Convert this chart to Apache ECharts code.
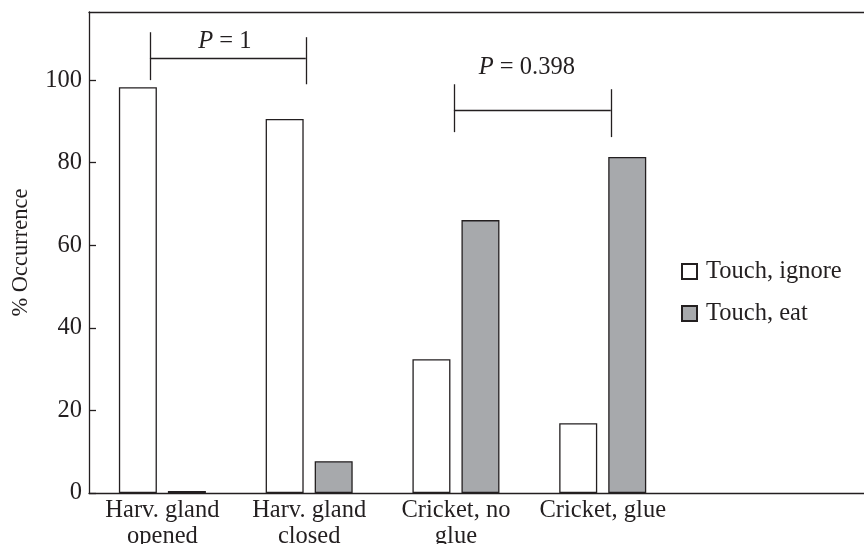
<!DOCTYPE html>
<html>
<head>
<meta charset="utf-8">
<script src="https://cdn.jsdelivr.net/npm/echarts@6/dist/echarts.min.js"></script>
<style>html,body{margin:0;padding:0;background:#fff;overflow:hidden}#c{width:864px;height:544px}</style>
</head>
<body>
<div id="c"></div>
<script>
const categories = ['Harv. gland\nopened', 'Harv. gland\nclosed', 'Cricket, no\nglue', 'Cricket, glue'];
const touchIgnore = [98.3, 90.6, 32.4, 16.9];
const touchEat = [0.5, 7.7, 66.1, 81.4];
const seriesNames = ['Touch, ignore', 'Touch, eat'];
const yTicks = [0, 20, 40, 60, 80, 100];
// significance brackets: [xLeft, xRight, yLeftTop, yLeftBottom, yRightTop, yRightBottom, yBar]
const bracket1 = [-0.085, 0.977, 111.6, 100.0, 110.4, 99.0, 105.3];
const bracket2 = [1.986, 3.055, 99.0, 87.4, 97.8, 86.2, 92.7];
// p-value labels: [x, y, text]
const pLabel1 = [0.426, 109.3, '1'];
const pLabel2 = [2.483, 103.0, '0.398'];

const FONT = 'Liberation Serif';
const INK = '#231f20';
const GRAY = '#a7a9ac';
const FS = 24.5;

const X_MIN = -0.5, X_MAX = 4.78;
const catIdx = categories.map((c, i) => i);

function bracketLines(b) {
  return [
    [{coord: [b[0], b[2]]}, {coord: [b[0], b[3]]}],
    [{coord: [b[1], b[4]]}, {coord: [b[1], b[5]]}],
    [{coord: [b[0], b[6]]}, {coord: [b[1], b[6]]}]
  ];
}

const chart = echarts.init(document.getElementById('c'), null, {renderer: 'canvas'});
chart.setOption({
  animation: false,
  backgroundColor: '#fff',
  textStyle: {fontFamily: FONT, color: INK},
  grid: {left: 89, top: 12, right: 0, bottom: 51, containLabel: false, outerBoundsMode: 'none'},
  legend: {
    orient: 'vertical',
    left: 681,
    top: 259,
    padding: 0,
    itemWidth: 15,
    itemHeight: 15,
    itemGap: 17,
    icon: 'rect',
    data: seriesNames,
    textStyle: {fontFamily: FONT, fontSize: FS, color: INK, padding: [0, 0, 0, 4]}
  },
  xAxis: [
    {
      type: 'value',
      min: X_MIN,
      max: X_MAX,
      axisLine: {show: true, onZero: false, lineStyle: {color: INK, width: 1.3}},
      axisTick: {show: false},
      splitLine: {show: false},
      axisLabel: {
        show: true,
        customValues: catIdx,
        formatter: v => categories[Math.round(v)] || '',
        fontFamily: FONT, fontSize: FS, color: INK, lineHeight: 26, margin: 5
      }
    },
    {
      type: 'value',
      min: X_MIN,
      max: X_MAX,
      position: 'top',
      axisLine: {show: true, onZero: false, lineStyle: {color: INK, width: 1.3}},
      axisTick: {show: false},
      splitLine: {show: false},
      axisLabel: {show: false}
    }
  ],
  yAxis: {
    type: 'value',
    min: yTicks[0],
    max: 116.5,
    interval: 20,
    name: '% Occurrence',
    nameLocation: 'middle',
    nameGap: 56,
    nameTextStyle: {fontFamily: FONT, fontSize: 22.5, color: INK},
    axisLine: {show: true, onZero: false, lineStyle: {color: INK, width: 1.3}},
    axisTick: {show: true, inside: true, length: 7, lineStyle: {color: INK, width: 1.3}},
    splitLine: {show: false},
    axisLabel: {
      fontFamily: FONT, fontSize: FS, color: INK, margin: 7, showMaxLabel: false,
      formatter: v => (yTicks.indexOf(v) >= 0 ? String(v) : '')
    }
  },
  series: [
    {
      name: seriesNames[0],
      type: 'bar',
      data: touchIgnore.map((v, i) => [catIdx[i], v]),
      barWidth: 38,
      barGap: '29%',
      itemStyle: {color: '#ffffff', borderColor: INK, borderWidth: 1.3}
    },
    {
      name: seriesNames[1],
      type: 'bar',
      data: touchEat.map((v, i) => [catIdx[i], v]),
      barWidth: 38,
      barGap: '29%',
      itemStyle: {color: GRAY, borderColor: INK, borderWidth: 1.3}
    },
    {
      name: 'brackets',
      type: 'scatter',
      symbolSize: 0,
      itemStyle: {opacity: 1},
      data: [[pLabel1[0], pLabel1[1], pLabel1[2]], [pLabel2[0], pLabel2[1], pLabel2[2]]],
      label: {
        show: true,
        position: 'inside',
        formatter: p => '{i|P} = ' + p.value[2],
        fontFamily: FONT,
        fontSize: FS,
        color: INK,
        rich: {i: {fontFamily: FONT, fontSize: FS, fontStyle: 'italic', color: INK}}
      },
      markLine: {
        silent: true,
        symbol: 'none',
        label: {show: false},
        lineStyle: {color: INK, width: 1.3, type: 'solid', opacity: 1},
        data: bracketLines(bracket1).concat(bracketLines(bracket2))
      }
    }
  ]
});
</script>
</body>
</html>
